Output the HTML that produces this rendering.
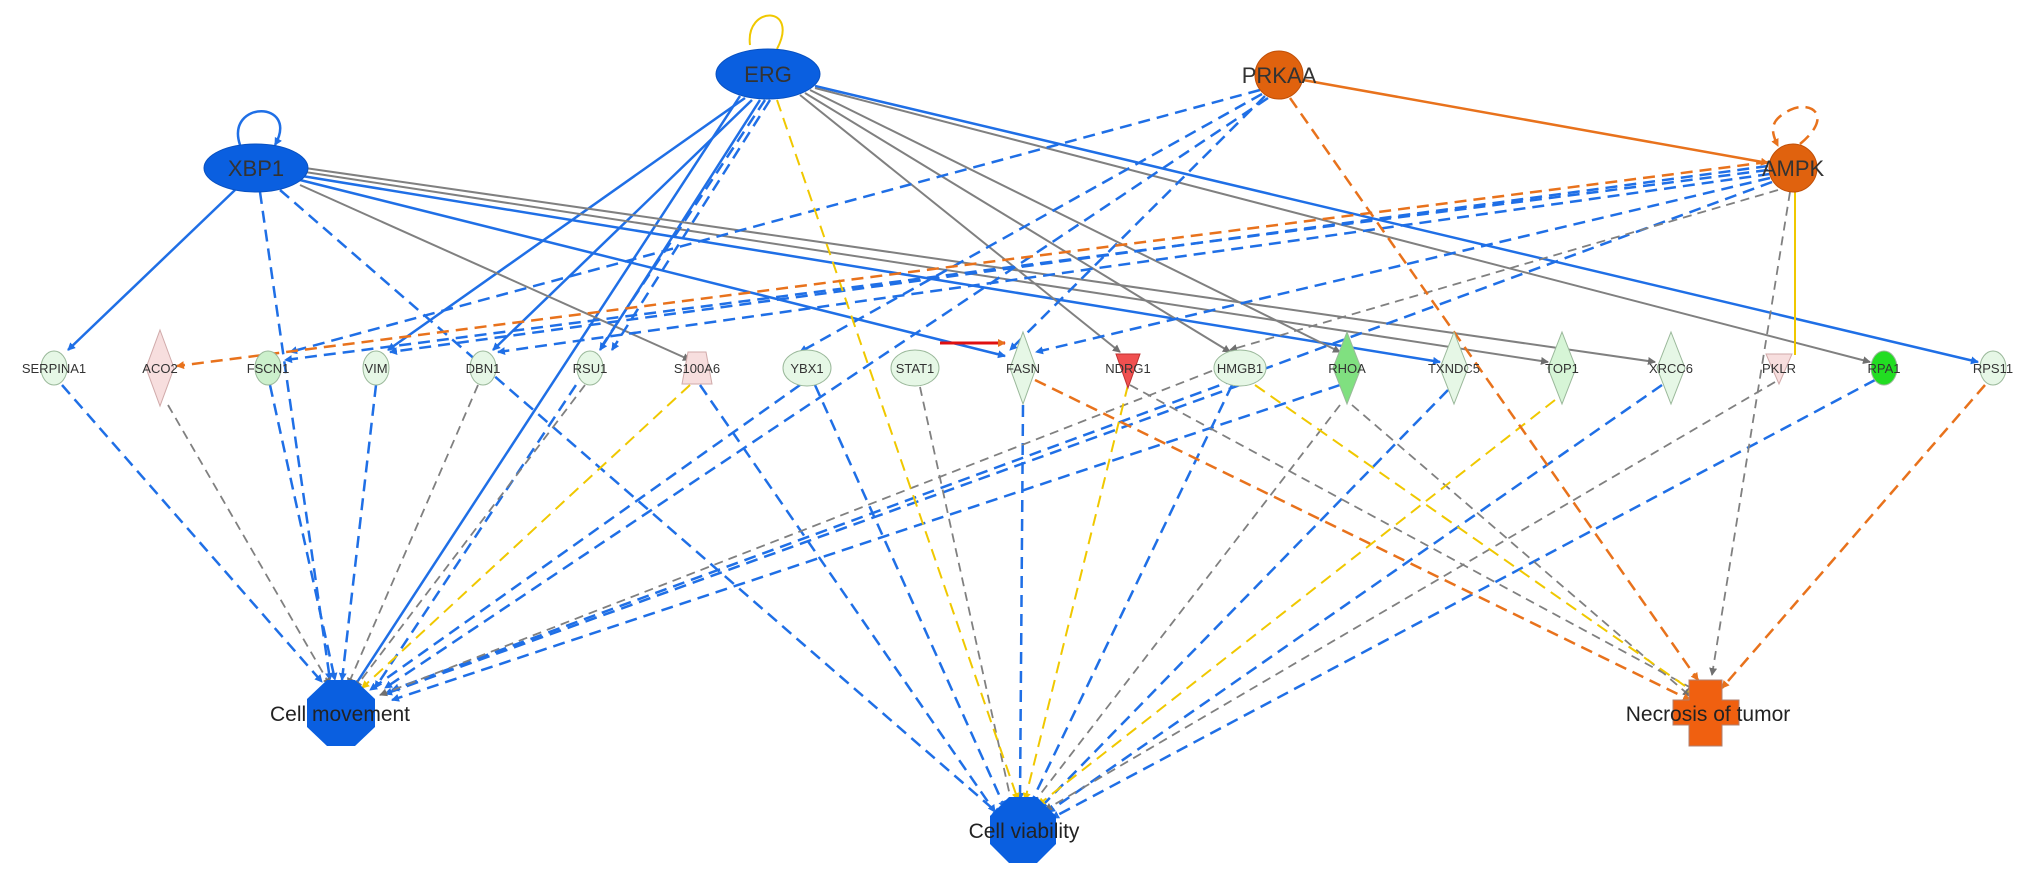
<!DOCTYPE html>
<html><head><meta charset="utf-8"><style>
html,body{margin:0;padding:0;background:#fff;}
svg{display:block}
text{font-family:"Liberation Sans",sans-serif;fill:#333;}
.s{font-size:13px;text-anchor:middle;}
.b{font-size:22px;text-anchor:middle;}
.t{font-size:21px;text-anchor:middle;fill:#222;}
</style></head><body>
<svg width="2031" height="878" viewBox="0 0 2031 878" xmlns="http://www.w3.org/2000/svg">
<defs>
<marker id="mb" markerWidth="8" markerHeight="8" refX="7" refY="4" orient="auto" markerUnits="userSpaceOnUse" viewBox="0 0 8 8"><path d="M0,0L8,4L0,8z" fill="#1f6fe6"/></marker>
<marker id="mg" markerWidth="8" markerHeight="8" refX="7" refY="4" orient="auto" markerUnits="userSpaceOnUse" viewBox="0 0 8 8"><path d="M0,0L8,4L0,8z" fill="#707070"/></marker>
<marker id="mo" markerWidth="8" markerHeight="8" refX="7" refY="4" orient="auto" markerUnits="userSpaceOnUse" viewBox="0 0 8 8"><path d="M0,0L8,4L0,8z" fill="#e8721c"/></marker>
<marker id="my" markerWidth="8" markerHeight="8" refX="7" refY="4" orient="auto" markerUnits="userSpaceOnUse" viewBox="0 0 8 8"><path d="M0,0L8,4L0,8z" fill="#f0c800"/></marker>
</defs>

<!-- solid blue -->
<g stroke="#1f6fe6" stroke-width="2.5" fill="none" marker-end="url(#mb)">
<line x1="235" y1="190" x2="68" y2="350"/>
<line x1="300" y1="180" x2="1005" y2="356"/>
<line x1="302" y1="176" x2="1440" y2="362"/>
<line x1="745" y1="98" x2="388" y2="350"/>
<line x1="752" y1="100" x2="493" y2="350"/>
<line x1="760" y1="100" x2="600" y2="350"/>
<line x1="740" y1="96" x2="352" y2="690"/>
<line x1="815" y1="86" x2="1978" y2="362"/>
<path d="M240,145 C225,100 300,100 275,145"/>
</g>
<!-- solid gray -->
<g stroke="#808080" stroke-width="2" fill="none" marker-end="url(#mg)">
<line x1="300" y1="185" x2="690" y2="360"/>
<line x1="305" y1="172" x2="1548" y2="362"/>
<line x1="305" y1="168" x2="1655" y2="362"/>
<line x1="800" y1="95" x2="1120" y2="352"/>
<line x1="805" y1="93" x2="1230" y2="352"/>
<line x1="810" y1="90" x2="1340" y2="352"/>
<line x1="815" y1="88" x2="1870" y2="362"/>
</g>
<!-- solid orange -->
<line x1="1303" y1="80" x2="1768" y2="163" stroke="#e8721c" stroke-width="2.5" marker-end="url(#mo)"/>
<path d="M777,49 C800,5 745,5 750,45" stroke="#f0c800" stroke-width="2" fill="none"/>
<line x1="1795" y1="192" x2="1795" y2="355" stroke="#f0c800" stroke-width="2"/>
<line x1="940" y1="343" x2="1005" y2="343" stroke="#e01010" stroke-width="3" marker-end="url(#mo)"/>

<!-- dashed blue -->
<g stroke="#1f6fe6" stroke-width="2.5" fill="none" stroke-dasharray="12,7" marker-end="url(#mb)">
<line x1="260" y1="192" x2="330" y2="680"/>
<line x1="280" y1="190" x2="1000" y2="815"/>
<line x1="765" y1="100" x2="375" y2="688"/>
<line x1="770" y1="100" x2="612" y2="350"/>
<line x1="1260" y1="90" x2="290" y2="352"/>
<line x1="1262" y1="94" x2="800" y2="352"/>
<line x1="1265" y1="96" x2="1010" y2="350"/>
<line x1="1268" y1="98" x2="385" y2="688"/>
<line x1="1768" y1="166" x2="390" y2="352"/>
<line x1="1768" y1="170" x2="285" y2="360"/>
<line x1="1770" y1="174" x2="498" y2="352"/>
<line x1="1770" y1="178" x2="1036" y2="352"/>
<line x1="1772" y1="182" x2="392" y2="690"/>
<line x1="62" y1="385" x2="322" y2="682"/>
<line x1="270" y1="385" x2="335" y2="680"/>
<line x1="376" y1="385" x2="342" y2="680"/>
<line x1="800" y1="385" x2="370" y2="690"/>
<line x1="1240" y1="385" x2="385" y2="694"/>
<line x1="1340" y1="385" x2="392" y2="700"/>
<line x1="700" y1="385" x2="995" y2="812"/>
<line x1="815" y1="385" x2="1005" y2="808"/>
<line x1="1023" y1="405" x2="1020" y2="800"/>
<line x1="1232" y1="385" x2="1030" y2="805"/>
<line x1="1448" y1="390" x2="1040" y2="808"/>
<line x1="1662" y1="385" x2="1048" y2="812"/>
<line x1="1875" y1="380" x2="1052" y2="818"/>
</g>
<!-- dashed gray -->
<g stroke="#808080" stroke-width="1.8" fill="none" stroke-dasharray="9,6" marker-end="url(#mg)">
<line x1="168" y1="405" x2="330" y2="685"/>
<line x1="478" y1="385" x2="348" y2="685"/>
<line x1="585" y1="385" x2="355" y2="688"/>
<line x1="1240" y1="360" x2="380" y2="695"/>
<line x1="920" y1="387" x2="1012" y2="805"/>
<line x1="1340" y1="405" x2="1032" y2="805"/>
<line x1="1775" y1="382" x2="1045" y2="810"/>
<line x1="1778" y1="190" x2="1230" y2="350"/>
<line x1="1790" y1="192" x2="1712" y2="675"/>
<line x1="1130" y1="385" x2="1695" y2="690"/>
<line x1="1352" y1="405" x2="1690" y2="696"/>
</g>
<!-- dashed yellow -->
<g stroke="#f0c800" stroke-width="2" fill="none" stroke-dasharray="12,7" marker-end="url(#my)">
<line x1="777" y1="100" x2="1018" y2="800"/>
<line x1="690" y1="385" x2="362" y2="688"/>
<line x1="1128" y1="385" x2="1025" y2="800"/>
<line x1="1255" y1="385" x2="1695" y2="693"/>
<line x1="1555" y1="400" x2="1038" y2="805"/>
</g>
<!-- dashed orange -->
<g stroke="#e8721c" stroke-width="2.5" fill="none" stroke-dasharray="12,7" marker-end="url(#mo)">
<line x1="1768" y1="162" x2="177" y2="366"/>
<line x1="1290" y1="98" x2="1698" y2="680"/>
<line x1="1035" y1="380" x2="1690" y2="700"/>
<line x1="1985" y1="385" x2="1722" y2="688"/>
<path d="M1800,144 C1835,115 1810,100 1790,110 C1770,120 1770,130 1778,146"/>
</g>

<!-- top nodes -->
<ellipse cx="256" cy="168" rx="52" ry="24" fill="#0a5fe0" stroke="#0850c0"/>
<text class="b" x="256" y="176">XBP1</text>
<ellipse cx="768" cy="74" rx="52" ry="25" fill="#0a5fe0" stroke="#0850c0"/>
<text class="b" x="768" y="82">ERG</text>
<circle cx="1279" cy="75" r="24" fill="#e0620e" stroke="#c05008"/>
<text class="b" x="1279" y="83">PRKAA</text>
<circle cx="1793" cy="168" r="24" fill="#e0620e" stroke="#c05008"/>
<text class="b" x="1793" y="176">AMPK</text>

<!-- row nodes -->
<g stroke="#9ab89a" stroke-width="1">
<ellipse cx="54" cy="368" rx="13" ry="17" fill="#e6f7e6"/>
<polygon points="160,330 174,368 160,406 146,368" fill="#f7dede" stroke="#d0aaaa"/>
<ellipse cx="268" cy="368" rx="13" ry="17" fill="#ccf0cc"/>
<ellipse cx="376" cy="368" rx="13" ry="17" fill="#e6f7e6"/>
<ellipse cx="483" cy="368" rx="13" ry="17" fill="#e6f7e6"/>
<ellipse cx="590" cy="368" rx="13" ry="17" fill="#e6f7e6"/>
<polygon points="688,352 706,352 712,384 682,384" fill="#f7dede" stroke="#d0aaaa"/>
<ellipse cx="807" cy="368" rx="24" ry="18" fill="#e6f7e6"/>
<ellipse cx="915" cy="368" rx="24" ry="18" fill="#e6f7e6"/>
<polygon points="1023,332 1036,368 1023,404 1010,368" fill="#e6f7e6"/>
<polygon points="1116,354 1140,354 1128,388" fill="#f05050" stroke="#c03030"/>
<ellipse cx="1240" cy="368" rx="26" ry="18" fill="#e6f7e6"/>
<polygon points="1347,332 1361,368 1347,404 1333,368" fill="#80e080"/>
<polygon points="1454,332 1468,368 1454,404 1440,368" fill="#e6f7e6"/>
<polygon points="1562,332 1576,368 1562,404 1548,368" fill="#d6f5d6"/>
<polygon points="1671,332 1685,368 1671,404 1657,368" fill="#e6f7e6"/>
<polygon points="1766,354 1792,354 1779,384" fill="#f7dede" stroke="#d0aaaa"/>
<ellipse cx="1884" cy="368" rx="13" ry="17" fill="#22dd22"/>
<ellipse cx="1993" cy="368" rx="13" ry="17" fill="#e6f7e6"/>
</g>
<g>
<text class="s" x="54" y="373">SERPINA1</text>
<text class="s" x="160" y="373">ACO2</text>
<text class="s" x="268" y="373">FSCN1</text>
<text class="s" x="376" y="373">VIM</text>
<text class="s" x="483" y="373">DBN1</text>
<text class="s" x="590" y="373">RSU1</text>
<text class="s" x="697" y="373">S100A6</text>
<text class="s" x="807" y="373">YBX1</text>
<text class="s" x="915" y="373">STAT1</text>
<text class="s" x="1023" y="373">FASN</text>
<text class="s" x="1128" y="373">NDRG1</text>
<text class="s" x="1240" y="373">HMGB1</text>
<text class="s" x="1347" y="373">RHOA</text>
<text class="s" x="1454" y="373">TXNDC5</text>
<text class="s" x="1562" y="373">TOP1</text>
<text class="s" x="1671" y="373">XRCC6</text>
<text class="s" x="1779" y="373">PKLR</text>
<text class="s" x="1884" y="373">RPA1</text>
<text class="s" x="1993" y="373">RPS11</text>
</g>

<!-- function nodes -->
<polygon points="327,680 355,680 375,699 375,727 355,746 327,746 307,727 307,699" fill="#0a5fe0"/>
<text class="t" x="340" y="721">Cell movement</text>
<polygon points="1009,797 1037,797 1056,816 1056,844 1037,863 1009,863 990,844 990,816" fill="#0a5fe0"/>
<text class="t" x="1024" y="838">Cell viability</text>
<path d="M1689,680H1722V700H1739V725H1722V746H1689V725H1673V700H1689Z" fill="#f06010" stroke="#b08070"/>
<text class="t" x="1708" y="721">Necrosis of tumor</text>
</svg>
</body></html>
